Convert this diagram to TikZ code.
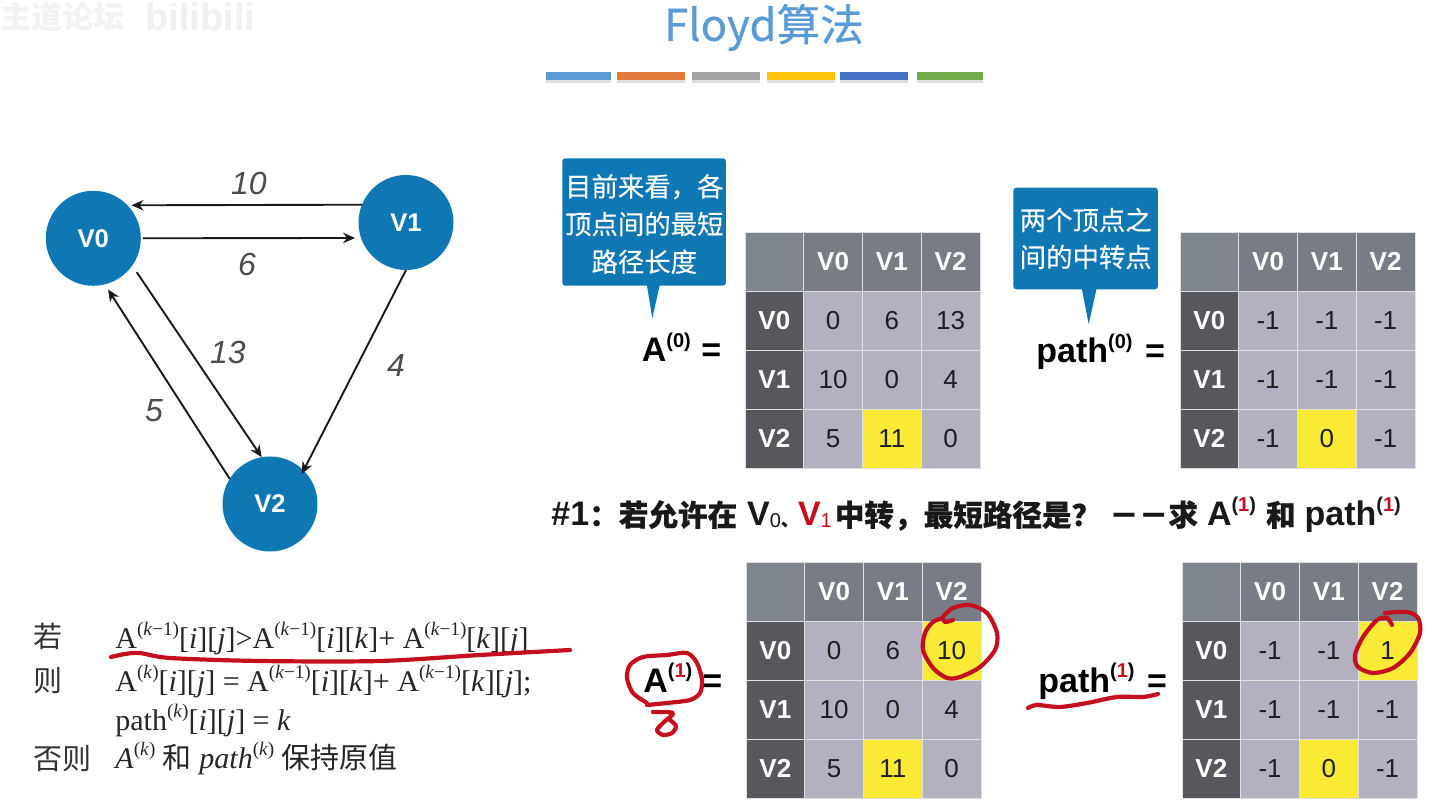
\documentclass[tikz,border=0pt]{standalone}
\usepackage{fontspec}
\usetikzlibrary{arrows.meta}
\setmainfont{Liberation Sans}
\newfontfamily\cjk{Noto Sans CJK SC}
\newfontfamily\cjkm[FakeBold=0.5]{Noto Sans CJK SC}
\newfontfamily\cjkl[FakeBold=0.25]{Noto Sans CJK SC}
\newfontfamily\serif{Liberation Serif}
\newcommand\fs[1]{\fontsize{#1}{#1}\selectfont}
\newcommand\sps[1]{\raisebox{0.42em}{\fs{9.6}#1}}
\newcommand\kk{(\textit{k}−1)}
\newcommand\ko{(\textit{k})}
\newcommand\ii{[\textit{i}]}
\newcommand\jj{[\textit{j}]}
\newcommand\kb{[\textit{k}]}
\newcommand\supb[1]{\raisebox{0.42em}{\fs{10}#1}}
\definecolor{nodeblue}{HTML}{0F78B4}
\definecolor{headgray}{HTML}{787D85}
\definecolor{cornergray}{HTML}{7F858D}
\definecolor{rowgray}{HTML}{57585E}
\definecolor{cellgray}{HTML}{B3B1C0}
\definecolor{yel}{HTML}{F8EA35}
\definecolor{ink}{HTML}{C4101E}
\definecolor{titleblue}{HTML}{5B9BD5}
\definecolor{txt}{HTML}{1E1E22}
\tikzset{
  x=0.5pt,y=-0.5pt,
  vertex/.style={circle,fill=nodeblue,minimum size=47.5pt,inner sep=0pt,outer sep=0pt,text=white,font=\fs{12.8}\bfseries},
  edge/.style={draw=black!90,line width=0.95pt,-{Stealth[length=6pt,width=5.2pt]}},
  wlabel/.style={font=\fs{16}\itshape,text=black!70,inner sep=0pt},
  cellbase/.style={draw=white!88!black,line width=0.4pt,minimum width=29.4pt,minimum height=29.5pt,inner sep=0pt,outer sep=0pt,anchor=center},
  headcell/.style={cellbase,fill=headgray,text=white,font=\fs{13}\bfseries},
  rowcell/.style={cellbase,fill=rowgray,text=white,font=\fs{13}\bfseries},
  corner/.style={cellbase,fill=cornergray},
  numcell/.style={cellbase,text=txt,font=\fs{13}},
  callout/.style={fill=nodeblue,rounded corners=1.5pt,inner sep=0pt,outer sep=0pt,anchor=north west},
  calltext/.style={inner sep=0pt,text=white,font=\cjkl\fs{13.2}},
  eqlabel/.style={anchor=base west,inner sep=0pt,text=black,font=\fs{17}\bfseries},
  formula/.style={anchor=base west,inner sep=0pt,text=black!85,font=\serif\fs{15}},
  hanzi/.style={anchor=base west,inner sep=0pt,text=black!80,font=\cjk\fs{14.5}},
  redink/.style={draw=ink,line width=2.1pt,line cap=round,line join=round},
  barshade/.style={fill=black,opacity=0.13}
}
\newcommand\ftable[6]{%
  \node[corner] (#1-c) at ({#2+0.5*58.75},{#3+0.5*59}) {};
  \foreach \k/\h in {0/V0,1/V1,2/V2}{
    \node[headcell] (#1-h\k) at ({#2+(\k+1.5)*58.75},{#3+0.5*59}) {\h};
    \node[rowcell] (#1-r\k) at ({#2+0.5*58.75},{#3+(\k+1.5)*59}) {\h};
  }
  \foreach \r/\a/\b/\c in {#4}{
    \foreach \k/\v in {0/\a,1/\b,2/\c}{
      \def\cc{cellgray}
      \ifnum\r\k=#5\relax\def\cc{yel}\fi
      \ifnum\r\k=#6\relax\def\cc{yel}\fi
      \node[numcell,fill=\cc] (#1-\r-\k) at ({#2+(\k+1.5)*58.75},{#3+(\r+1.5)*59}) {\v};
    }
  }
}
\begin{document}
\begin{tikzpicture}
\useasboundingbox (0,0) rectangle (1440,806);
\fill[white] (0,0) rectangle (1440,806);
% watermark
\node[anchor=base west,inner sep=0pt,text=black!5,font=\cjk\fs{15.6}\bfseries] (wm1) at (0,29) {主道论坛};
\node[anchor=base west,inner sep=0pt,text=black!6,font=\fs{19}\bfseries] (wm2) at (145,31) {bilibili};
% title
\node[inner sep=0pt,text=titleblue,font=\cjkm\fs{21.8}] (title) at (764,27.5) {Floyd算法};
\foreach \n/\xa/\xb/\col in {1/545.7/611.3/5B9BD5,2/617.3/684.7/E07B39,3/692/759.7/A5A5A5,4/767.3/834.7/FCC30D,5/840/907.7/4472C4,6/917/983/70AD47}{
  \fill[barshade] (\xa,74) rectangle (\xb,83.5);
  \definecolor{barc}{HTML}{\col}
  \fill[barc] (\xa,71.7) rectangle (\xb,80);
}
% graph
\node[vertex] (V0) at (93.3,238.3) {V0};
\node[vertex] (V1) at (406,222.5) {V1};
\node[vertex] (V2) at (270,504) {V2};
\draw[edge,shorten >=2pt] (V1.158) -- (V0.44);
\draw[edge,shorten <=1pt,shorten >=3pt] (V0.east) -- (V1.199.5);
\draw[edge,shorten <=4pt] (V0.-35) -- (V2.100);
\draw[edge,shorten >=3pt] (V2.148) -- (V0.-76);
\draw[edge,shorten >=-2pt] (V1.south) -- (V2.45);
\node[wlabel] (w10) at (249,183) {10};
\node[wlabel] (w6) at (247,264) {6};
\node[wlabel] (w13) at (228,352) {13};
\node[wlabel] (w5) at (154,411) {5};
\node[wlabel] (w4) at (396,365) {4};
% callouts
\node[callout,minimum width=81.8pt,minimum height=63.7pt] (c1) at (562.3,158.3) {};
\fill[nodeblue] (646.7,284) -- (660,284) -- (652.3,318.3) -- cycle;
\node[calltext] (c1a) at (644.3,186.7) {目前来看，各};
\node[calltext] (c1b) at (644.3,224) {顶点间的最短};
\node[calltext] (c1c) at (644.3,261.7) {路径长度};
\node[callout,minimum width=72.3pt,minimum height=50.8pt] (c2) at (1013.3,187.7) {};
\fill[nodeblue] (1081.7,288) -- (1096.7,288) -- (1088.7,324.3) -- cycle;
\node[calltext] (c2a) at (1085.7,220) {两个顶点之};
\node[calltext] (c2b) at (1085.7,257) {间的中转点};
% tables
\ftable{ta}{745}{232}{0/0/6/13,1/10/0/4,2/5/11/0}{21}{99}
\ftable{tb}{1180}{232}{0/-1/-1/-1,1/-1/-1/-1,2/-1/0/-1}{21}{99}
\ftable{tc}{746}{562}{0/0/6/10,1/10/0/4,2/5/11/0}{21}{2}
\ftable{td}{1182}{562}{0/-1/-1/1,1/-1/-1/-1,2/-1/0/-1}{21}{2}
% equations
\node[eqlabel] (eqa) at (641.5,362) {A\supb{(0)}\hspace{5.2pt}=};
\node[eqlabel] (eqb) at (1036,363) {path\supb{(0)}\hspace{6.2pt}=};
\node[eqlabel] (eqc) at (643,692) {A\supb{(\textcolor{ink}{1})}\hspace{5pt}=};
\node[eqlabel] (eqd) at (1038,692) {path\supb{(\textcolor{ink}{1})}\hspace{6.2pt}=};
% question line
\node[anchor=base west,inner sep=0pt,text=black!90,font=\fs{17}\bfseries] (q) at (551,526) {%
  \#1{\cjkm\fs{14.8}：若允许在}\hspace{5pt}V{\fs{10}\mdseries\raisebox{-0.1em}{0}}{\cjkm\fs{8.5}、}\textcolor{ink}{V{\fs{10}\mdseries\raisebox{-0.1em}{1}}}\hspace{1.5pt}{\cjkm\fs{14.8}中转，最短路径是？}\hspace{4pt}{\cjkm\fs{14.8}－－求}\hspace{4.5pt}A\supb{(\textcolor{ink}{1})}\hspace{5pt}{\cjkm\fs{14.8}和}\hspace{4.5pt}path\supb{(\textcolor{ink}{1})}};
% formula
\node[hanzi] (f1h) at (33,647) {若};
\node[formula] (f1) at (115,648) {A\sps{\kk}\ii\jj>A\sps{\kk}\ii\kb+ A\sps{\kk}\kb\jj};
\node[hanzi] (f2h) at (33,691) {则};
\node[formula] (f2) at (115,691) {A\sps{\ko}\ii\jj\ = A\sps{\kk}\ii\kb+ A\sps{\kk}\kb\jj;};
\node[formula] (f3) at (115,730) {path\sps{\ko}\ii\jj\ = \textit{k}};
\node[hanzi] (f4h) at (33,769) {否则};
\node[formula] (f4) at (115,768) {\textit{A}\sps{\ko}\ {\cjk\fs{14.5}和}\ \textit{path}\sps{\ko}\ {\cjk\fs{14.5}保持原值}};
% ink
\draw[redink] plot[smooth] coordinates {(111,657) (125,654) (140,653) (170,658) (260,661) (380,661) (480,655) (570,650)};
\draw[redink] plot[smooth] coordinates {(953,620) (945,622) (943,617) (953,608) (970,605) (987,613) (997,633) (995,650) (980,667) (960,677) (947,678) (933,668) (923,650) (925,633) (933,622) (943,618)};
\draw[redink] plot[smooth] coordinates {(647,703) (633,693) (627,678) (630,665) (643,657) (667,655) (687,653) (697,663) (702,680) (700,693) (690,700) (667,703) (647,705)};
\draw[redink] plot[smooth] coordinates {(653,712) (673,713) (664,722) (657,730) (663,735) (672,733) (676,726) (670,720)};
\draw[redink] plot[smooth] coordinates {(1392,625) (1387,618) (1377,620) (1363,637) (1355,655) (1358,667) (1373,673) (1393,668) (1410,653) (1420,633) (1418,618) (1407,612) (1385,613)};
\draw[redink] plot[smooth] coordinates {(1028,708) (1037,705) (1060,707) (1087,703) (1117,697) (1143,697) (1158,694)};
\end{tikzpicture}
\end{document}
